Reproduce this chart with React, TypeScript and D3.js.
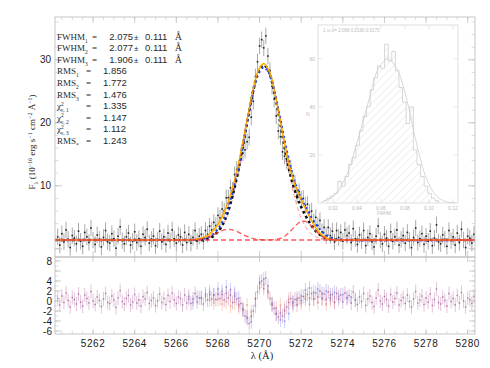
import React from 'react';
import * as d3 from 'd3';

// observed spectrum, sampled every 0.1 A from 5260.3 A
const waveStart = 5260.3;
const waveStep = 0.1;
const continuum = 1.4;
const fluxErr = 1.3;
const resErr = 1.4;

const flux = [
  1.9, 0.6, 2.4, 1.1, 3.0, 1.5, 0.2, 2.1, 1.7, 0.8,
  2.8, 1.2, 0.4, 2.6, 1.9, 1.0, 3.3, 1.4, 0.7, 2.2,
  1.5, 0.3, 1.8, 2.9, 1.1, 0.9, 2.4, 1.6, 0.1, 2.0,
  3.5, 1.3, 0.8, 1.9, 2.5, 0.6, 1.2, 2.7, 1.0, 1.6,
  0.4, 2.3, 1.8, 3.1, 0.9, 1.5, 2.0, 0.5, 1.4, 2.8,
  1.1, 1.9, 0.7, 2.5, 1.3, 3.0, 1.6, 0.9, 2.2,
  1.9, 0.6, 2.6, 1.0, 2.3, 0.9, 1.8, 2.9, 1.2, 2.0,
  2.3, 1.2, 2.9, 2.3, 3.6, 3.0, 4.2, 3.7, 5.3, 4.9,
  6.3, 6.0, 8.1, 8.1, 9.7, 9.3, 11.8, 12.6, 12.8, 14.8,
  15.2, 15.7, 17.0, 17.7, 20.9, 23.4, 27.3, 29.7, 32.2, 33.2,
  31.9, 33.8, 30.6, 28.3, 25.8, 23.8, 21.1, 18.7, 17.8, 15.4,
  14.7, 13.9, 13.3, 12.8, 10.9, 10.4, 8.5, 9.1, 7.9, 8.0,
  6.9, 7.1, 5.8, 6.0, 4.3, 5.0, 3.7, 4.5, 2.7, 3.4,
  2.1, 3.4, 2.1, 2.8, 1.1, 2.9, 1.8, 2.6, 1.2, 3.0,
  2.1,
  2.5, 1.0, 3.2, 1.6, 0.7, 2.2, 1.3, 2.9, 0.5, 1.8,
  2.4, 1.1, 0.3, 2.0, 3.6, 1.4, 0.8, 2.3, 1.7, 0.4,
  2.7, 1.2, 1.9, 3.0, 0.6, 1.5, 2.1, 0.9, 2.6, 1.3,
  0.2, 1.8, 3.3, 1.0, 1.6, 2.4, 0.7, 2.0, 1.2, 2.8,
  0.5, 1.7, 3.8, 1.1, 0.8, 2.2, 1.5, 0.4, 2.9, 1.3,
  1.9, 0.6, 2.5, 1.0, 3.1, 1.4, 0.2, 2.0, 1.7, 0.9,
  2.3,
];

const resPurple = [
  0.5, -0.8, 1.0, -0.3, 1.6, 0.1, -1.2, 0.7, 0.3, -0.6,
  1.4, -0.2, -1.0, 1.2, 0.5, -0.4, 1.9, 0.0, -0.7, 0.8,
  0.1, -1.1, 0.4, 1.5, -0.3, -0.5, 1.0, 0.2, -1.3, 0.6,
  2.1, -0.1, -0.6, 0.5, 1.1, -0.8, -0.2, 1.3, -0.4, 0.2,
  -1.0, 0.9, 0.4, 1.7, -0.5, 0.1, 0.6, -0.9, 0.0, 1.4,
  -0.3, 0.5, -0.7, 1.1, -0.1, 1.6, 0.2, -0.5, 0.8,
  0.5, -0.8, 1.2, -0.4, 0.9, -0.5, 0.4, 1.5, -0.2, 0.6,
  0.7, -0.6, 1.0, 0.2, 1.3, 0.4, 1.2, 0.3, 1.4, 0.5,
  1.3, 0.2, 1.5, 0.6, 1.2, -0.3, 1.0, 0.4, -0.8, -0.5,
  -1.8, -3.0, -3.5, -4.5, -3.0, -2.0, 0.5, 1.8, 3.5, 4.0,
  2.5, 4.6, 2.0, 0.5, -0.8, -1.5, -2.5, -3.2, -2.4, -3.0,
  -2.0, -1.2, -0.3, 0.5, -0.2, 0.3, -0.8, 0.6, 0.1, 0.9,
  0.4, 1.3, 0.6, 1.5, 0.4, 1.6, 0.8, 2.0, 0.5, 1.4,
  0.3, 1.8, 0.6, 1.3, -0.3, 1.5, 0.4, 1.2, -0.2, 1.6,
  0.7,
  1.1, -0.4, 1.8, 0.2, -0.7, 0.8, -0.1, 1.5, -0.9, 0.4,
  1.0, -0.3, -1.1, 0.6, 2.2, 0.0, -0.6, 0.9, 0.3, -1.0,
  1.3, -0.2, 0.5, 1.6, -0.8, 0.1, 0.7, -0.5, 1.2, -0.1,
  -1.2, 0.4, 1.9, -0.4, 0.2, 1.0, -0.7, 0.6, -0.2, 1.4,
  -0.9, 0.3, 2.4, -0.3, -0.6, 0.8, 0.1, -1.0, 1.5, -0.1,
  0.5, -0.8, 1.1, -0.4, 1.7, 0.0, -1.2, 0.6, 0.3, -0.5,
  0.9,
];

// residuals of the other two fits, every 0.2 A
const blueResStart = 5266.6;
const resBlue = [
  0.4, -0.3, 0.8, 0.5, 1.4, 1.8, 1.2, 2.4, 1.9, 2.8,
  2.2, 1.5, 0.6, -1.5, -3.2, -4.2, -1.0, 3.8, 4.4, 3.0,
  -0.5, -2.6, -3.8, -4.0, -2.5, -0.4, 0.2, 1.0, 2.2, 2.6,
  1.8, 2.4, 1.5, 2.0, 1.2, 1.7, 0.9, 1.3, 0.5, 0.8,
  0.2,
];
const orangeResStart = 5267.6;
const resOrange = [
  0.2, -0.4, 0.3, -0.6, -0.2, -1.0, -0.3, -1.2, -1.8, -0.8,
  -2.2, 0.4, 2.6, 3.2, 1.6, -0.6, -1.4, -0.8, -1.6, 0.3,
  -0.9, 0.6, -0.5, 0.9, -0.7, 0.4, -0.3, 0.5, -0.6, 0.2,
  -0.2,
];

// model curves, every 0.25 A from 5266.2 A
const fitStart = 5266.2;
const fitStep = 0.25;
const fitYellow = [1.40, 1.41, 1.43, 1.49, 1.64, 1.98, 2.60, 3.59, 5.02, 6.98, 9.56, 12.88, 16.96, 21.39, 25.43, 28.39, 29.43, 28.31, 25.26, 21.11, 16.69, 12.89, 10.13, 8.15, 6.46, 4.82, 3.36, 2.32, 1.75, 1.49, 1.42, 1.40];
const fitOrange = [1.40, 1.41, 1.44, 1.52, 1.70, 2.05, 2.70, 3.70, 5.15, 7.10, 9.65, 12.95, 17.00, 21.40, 25.40, 28.35, 29.40, 28.30, 25.30, 21.20, 16.80, 13.00, 10.20, 8.15, 6.40, 4.75, 3.30, 2.28, 1.72, 1.48, 1.41, 1.40];
const fitBlue = [1.40, 1.40, 1.41, 1.44, 1.52, 1.72, 2.15, 2.95, 4.25, 6.20, 8.90, 12.40, 16.60, 21.00, 25.00, 27.80, 28.80, 27.90, 25.20, 21.40, 17.30, 13.60, 10.60, 8.40, 6.70, 5.20, 3.90, 2.90, 2.20, 1.75, 1.52, 1.42];
const fitBlack = [1.40, 1.40, 1.40, 1.41, 1.44, 1.55, 1.85, 2.55, 3.70, 5.60, 8.40, 12.00, 16.40, 21.00, 25.20, 28.20, 29.20, 28.10, 25.00, 20.80, 16.20, 12.20, 9.20, 7.00, 5.30, 3.90, 2.80, 2.10, 1.70, 1.50, 1.42, 1.40];
const compCentral = [1.40, 1.40, 1.40, 1.43, 1.48, 1.61, 1.90, 2.47, 3.52, 5.28, 7.95, 11.6, 16.1, 20.9, 25.2, 28.3, 29.4, 28.3, 25.2, 20.9, 16.1, 11.6, 7.95, 5.28, 3.52, 2.47, 1.90, 1.61, 1.48, 1.43, 1.40, 1.40];
const compLeft = [1.40, 1.41, 1.42, 1.46, 1.56, 1.77, 2.10, 2.52, 2.90, 3.10, 3.01, 2.68, 2.26, 1.89, 1.63, 1.49, 1.43, 1.40, 1.40, 1.40, 1.40, 1.40, 1.40, 1.40, 1.40, 1.40, 1.40, 1.40, 1.40, 1.40, 1.40, 1.40];
const compRight = [1.40, 1.40, 1.40, 1.40, 1.40, 1.40, 1.40, 1.40, 1.40, 1.40, 1.40, 1.40, 1.40, 1.40, 1.40, 1.40, 1.40, 1.41, 1.46, 1.61, 1.99, 2.69, 3.58, 4.27, 4.34, 3.75, 2.86, 2.11, 1.67, 1.48, 1.42, 1.40];

// inset histogram of FWHM
const histStart = 0.012;
const histBin = 0.003;
const histCounts = [1, 2, 3, 4, 9, 7, 11, 16, 19, 24, 30, 36, 40, 47, 52, 57, 56, 66, 59, 63, 55, 48, 42, 33, 40, 22, 16, 11, 7, 4, 2, 1];
const histCurveX = [0.010, 0.020, 0.030, 0.040, 0.050, 0.058, 0.066, 0.074, 0.082, 0.090, 0.098, 0.106, 0.114, 0.122];
const histCurveY = [0.3, 2.8, 10, 25, 43, 56, 60, 55, 42, 24, 10, 3, 0.6, 0.1];
const histTicks = [0.02, 0.04, 0.06, 0.08, 0.10, 0.12];

// statistics block
const fwhmVals = ['2.075', '2.077', '1.906'];
const fwhmErrs = ['0.111', '0.111', '0.111'];
const rmsVals = ['1.856', '1.772', '1.476'];
const chiVals = ['1.335', '1.147', '1.112'];
const rmsStar = '1.243';

const xTicks = [5262, 5264, 5266, 5268, 5270, 5272, 5274, 5276, 5278, 5280];
const yMainTicks = [10, 20, 30];
const yResTicks = [8, 4, 2, 0, -2, -4, -6];

const W = 490;
const H = 368;
const L = 55;
const R = 475;
const T = 17;
const MB = 257;
const RB = 334;

const axisGray = '#b8b8b8';
const insetGray = '#cdcdcd';
const serif = '"Liberation Serif", "DejaVu Serif", serif';
const sans = '"Liberation Sans", Arial, sans-serif';

export default function App() {
  const x = d3.scaleLinear().domain([5260.17, 5280.35]).range([L, R]);
  const yMain = d3.scaleLinear().domain([-1.3, 36.8]).range([MB, T]);
  const yRes = d3.scaleLinear().domain([-6.6, 8.8]).range([RB, MB]);

  const xIn = d3.scaleLinear().domain([0.0075, 0.1242]).range([318, 458]);
  const yIn = d3.scaleLinear().domain([0, 74]).range([203, 25]);

  const spec = flux.map((f, i) => ({ w: waveStart + i * waveStep, f }));
  const resP = resPurple.map((r, i) => ({ w: waveStart + i * waveStep, r }));
  const resB = resBlue.map((r, i) => ({ w: blueResStart + i * 0.2, r }));
  const resO = resOrange.map((r, i) => ({ w: orangeResStart + i * 0.2, r }));

  const errPath = spec
    .map((p) => `M${x(p.w)},${yMain(p.f - fluxErr)}V${yMain(p.f + fluxErr)}`)
    .join('');
  const resErrPath = (pts: { w: number; r: number }[]) => pts
    .map((p) => `M${x(p.w)},${yRes(p.r - resErr)}V${yRes(p.r + resErr)}`)
    .join('');

  const modelLine = d3.line<[number, number]>()
    .x((d) => x(d[0]))
    .y((d) => yMain(d[1]))
    .curve(d3.curveCatmullRom);
  const modelPts = (vals: number[]): [number, number][] => [
    [5260.17, continuum],
    ...vals.map((v, k) => [fitStart + k * fitStep, v] as [number, number]),
    [5280.35, continuum],
  ];

  const histArea = d3.area<[number, number]>()
    .x((d) => xIn(d[0]))
    .y0(yIn(0))
    .y1((d) => yIn(d[1]))
    .curve(d3.curveStepAfter);
  const histPts: [number, number][] = [
    ...histCounts.map((c, i) => [histStart + i * histBin, c] as [number, number]),
    [histStart + histCounts.length * histBin, 0],
  ];
  const histLine = d3.line<[number, number]>()
    .x((d) => xIn(d[0]))
    .y((d) => yIn(d[1]))
    .curve(d3.curveStepAfter);
  const curveLine = d3.line<number>()
    .x((_, i) => xIn(histCurveX[i]))
    .y((d) => yIn(d))
    .curve(d3.curveCatmullRom);

  const xMinor = d3.range(5260.5, 5280.4, 0.5);
  const yMainMinor = d3.range(0, 37, 2);
  const yResMinor = d3.range(-6, 9, 1);

  const rowY = (k: number) => 39.5 + 11.6 * k;

  return (
    <svg width={W} height={H} style={{ position: 'absolute', left: 0, top: 0, background: '#fff' }}>
      <defs>
        <clipPath id="mainClip"><rect x={L} y={T} width={R - L} height={MB - T} /></clipPath>
        <clipPath id="resClip"><rect x={L} y={MB} width={R - L} height={RB - MB} /></clipPath>
        <pattern id="hatch" width={5.5} height={5.5} patternUnits="userSpaceOnUse" patternTransform="rotate(45)">
          <line x1={0} y1={0} x2={0} y2={5.5} stroke="#d8d8d8" strokeWidth={0.8} />
        </pattern>
      </defs>

      {/* inset histogram */}
      <g>
        <rect x={318} y={25} width={140} height={178} fill="#fff" stroke="#d6d6d6" strokeWidth={0.8} />
        <path d={histArea(histPts) ?? ''} fill="url(#hatch)" />
        <path d={histLine(histPts) ?? ''} fill="none" stroke={insetGray} strokeWidth={0.8} />
        <path d={curveLine(histCurveY) ?? ''} fill="none" stroke={insetGray} strokeWidth={0.8} />
        {histTicks.map((t) => (
          <g key={t}>
            <line x1={xIn(t)} x2={xIn(t)} y1={203} y2={199} stroke="#d6d6d6" strokeWidth={0.6} />
            <line x1={xIn(t)} x2={xIn(t)} y1={25} y2={29} stroke="#d6d6d6" strokeWidth={0.6} />
            <text x={xIn(t)} y={210} fontSize={5} fill="#b8b8b8" textAnchor="middle" fontFamily={sans}>
              {t.toFixed(2)}
            </text>
          </g>
        ))}
        {[20, 40, 60].map((t) => (
          <g key={t}>
            <line x1={318} x2={322} y1={yIn(t)} y2={yIn(t)} stroke="#d6d6d6" strokeWidth={0.6} />
            <line x1={458} x2={454} y1={yIn(t)} y2={yIn(t)} stroke="#d6d6d6" strokeWidth={0.6} />
            <text x={315} y={yIn(t) + 2} fontSize={5} fill="#b8b8b8" textAnchor="end" fontFamily={sans}>{t}</text>
          </g>
        ))}
        <text x={306} y={116} fontSize={5} fill="#bcbcbc" fontFamily={sans}>N</text>
        <text x={384} y={215} fontSize={4.5} fill="#bcbcbc" textAnchor="middle" fontFamily={sans}>FWHM</text>
        <text x={323} y={32} fontSize={4.5} fill="#bcbcbc" fontFamily={sans}>1 ω σ=  2.066   0.0190   0.0170</text>
      </g>

      {/* main panel */}
      <g clipPath="url(#mainClip)">
        <path d={errPath} stroke="#707070" strokeWidth={0.6} fill="none" />
        {spec.map((p) => (
          <rect key={p.w} x={x(p.w) - 0.8} y={yMain(p.f) - 0.8} width={1.6} height={1.6} fill="#222" />
        ))}
        <path d={modelLine(modelPts(compCentral)) ?? ''} fill="none" stroke="#ff6b6b" strokeWidth={1} strokeDasharray="4 3" opacity={0.7} />
        <path d={modelLine(modelPts(fitBlack)) ?? ''} fill="none" stroke="#111" strokeWidth={2.6} strokeDasharray="2.6 3" />
        <path d={modelLine(modelPts(fitYellow)) ?? ''} fill="none" stroke="#ffd400" strokeWidth={1.6} />
        <path d={modelLine(modelPts(fitBlue)) ?? ''} fill="none" stroke="#1f3cff" strokeWidth={2} strokeDasharray="2 3" strokeDashoffset={1.5} />
        <path d={modelLine(modelPts(fitOrange)) ?? ''} fill="none" stroke="#ff9100" strokeWidth={0.9} />
        <path d={modelLine(modelPts(compLeft)) ?? ''} fill="none" stroke="#ff3b3b" strokeWidth={1.3} strokeDasharray="5 3" opacity={0.85} />
        <path d={modelLine(modelPts(compRight)) ?? ''} fill="none" stroke="#ff3b3b" strokeWidth={1.3} strokeDasharray="5 3" strokeDashoffset={2} opacity={0.85} />
      </g>

      {/* residual panel */}
      <g clipPath="url(#resClip)">
        <path d={resErrPath(resO)} stroke="#f5a582" strokeWidth={0.7} fill="none" opacity={0.7} />
        {resO.map((p) => <rect key={p.w} x={x(p.w) - 0.8} y={yRes(p.r) - 0.8} width={1.6} height={1.6} fill="#f08a60" opacity={0.7} />)}
        <path d={resErrPath(resB)} stroke="#7f8ff0" strokeWidth={0.7} fill="none" opacity={0.6} />
        {resB.map((p) => <rect key={p.w} x={x(p.w) - 0.8} y={yRes(p.r) - 0.8} width={1.6} height={1.6} fill="#6f7fe8" opacity={0.7} />)}
        <path d={resErrPath(resP)} stroke="#c07ab0" strokeWidth={0.6} fill="none" opacity={0.75} />
        {resP.map((p) => <rect key={p.w} x={x(p.w) - 0.7} y={yRes(p.r) - 0.7} width={1.4} height={1.4} fill="#9a5a8e" opacity={0.8} />)}
      </g>

      {/* frames and ticks */}
      <rect x={L} y={T} width={R - L} height={MB - T} fill="none" stroke={axisGray} strokeWidth={0.8} />
      <rect x={L} y={MB} width={R - L} height={RB - MB} fill="none" stroke={axisGray} strokeWidth={0.8} />
      {xTicks.map((t) => (
        <g key={t} stroke={axisGray} strokeWidth={0.7}>
          <line x1={x(t)} x2={x(t)} y1={T} y2={T + 6} />
          <line x1={x(t)} x2={x(t)} y1={MB} y2={MB - 6} />
          <line x1={x(t)} x2={x(t)} y1={MB} y2={MB + 5} />
          <line x1={x(t)} x2={x(t)} y1={RB} y2={RB - 5} />
        </g>
      ))}
      {xMinor.map((t) => (
        <g key={t} stroke={axisGray} strokeWidth={0.5}>
          <line x1={x(t)} x2={x(t)} y1={T} y2={T + 3} />
          <line x1={x(t)} x2={x(t)} y1={RB} y2={RB - 3} />
        </g>
      ))}
      {[0, ...yMainTicks].map((t) => (
        <g key={t} stroke={axisGray} strokeWidth={0.7}>
          <line x1={L} x2={L + 7} y1={yMain(t)} y2={yMain(t)} />
          <line x1={R} x2={R - 7} y1={yMain(t)} y2={yMain(t)} />
        </g>
      ))}
      {yMainMinor.map((t) => (
        <g key={t} stroke={axisGray} strokeWidth={0.5}>
          <line x1={L} x2={L + 3.5} y1={yMain(t)} y2={yMain(t)} />
          <line x1={R} x2={R - 3.5} y1={yMain(t)} y2={yMain(t)} />
        </g>
      ))}
      {[6, ...yResTicks].map((t) => (
        <g key={t} stroke={axisGray} strokeWidth={0.7}>
          <line x1={L} x2={L + 6} y1={yRes(t)} y2={yRes(t)} />
          <line x1={R} x2={R - 6} y1={yRes(t)} y2={yRes(t)} />
        </g>
      ))}
      {yResMinor.map((t) => (
        <g key={t} stroke={axisGray} strokeWidth={0.5}>
          <line x1={L} x2={L + 3} y1={yRes(t)} y2={yRes(t)} />
          <line x1={R} x2={R - 3} y1={yRes(t)} y2={yRes(t)} />
        </g>
      ))}

      {/* tick labels */}
      <g fontFamily={sans} fontSize={10} fill="#1a1a1a">
        {yMainTicks.map((t) => (
          <text key={t} x={51} y={yMain(t) + 3.5} textAnchor="end">{t}</text>
        ))}
        {yResTicks.map((t) => (
          <text key={t} x={52} y={yRes(t) + 3.5} textAnchor="end">{t}</text>
        ))}
        {xTicks.map((t) => (
          <text key={t} x={x(t)} y={347} textAnchor="middle" letterSpacing={0.6}>{t}</text>
        ))}
      </g>

      {/* axis titles */}
      <text x={262} y={359} textAnchor="middle" fontFamily={serif} fontSize={10.5} fill="#1a1a1a">λ (Å)</text>
      <text transform="translate(35,142) rotate(-90)" textAnchor="middle" fontFamily={serif} fontSize={9} fill="#1a1a1a">
        F<tspan baselineShift="sub" fontSize={6}>λ</tspan>
        {' (10'}<tspan baselineShift="super" fontSize={6}>−16</tspan>
        {' erg s'}<tspan baselineShift="super" fontSize={6}>−1</tspan>
        {' cm'}<tspan baselineShift="super" fontSize={6}>−2</tspan>
        {' Å'}<tspan baselineShift="super" fontSize={6}>−1</tspan>)
      </text>

      {/* statistics block */}
      <g fill="#2a2a2a">
        {fwhmVals.map((v, i) => (
          <g key={`f${i}`}>
            <text x={57} y={rowY(i)} fontFamily={serif} fontSize={9}>
              FWHM<tspan baselineShift="sub" fontSize={5.5}>{i + 1}</tspan>
            </text>
            <text x={92} y={rowY(i)} fontFamily={serif} fontSize={9}>=</text>
            <text x={133} y={rowY(i)} fontFamily={sans} fontSize={9.5} textAnchor="end">{v}</text>
            <text x={134} y={rowY(i)} fontFamily={sans} fontSize={8}>±</text>
            <text x={145} y={rowY(i)} fontFamily={sans} fontSize={9.5}>{fwhmErrs[i]}</text>
            <text x={175} y={rowY(i)} fontFamily={serif} fontSize={9.5}>Å</text>
          </g>
        ))}
        {rmsVals.map((v, i) => (
          <g key={`r${i}`}>
            <text x={57} y={rowY(3 + i)} fontFamily={serif} fontSize={9}>
              RMS<tspan baselineShift="sub" fontSize={5.5}>{i + 1}</tspan>
            </text>
            <text x={86} y={rowY(3 + i)} fontFamily={serif} fontSize={9}>=</text>
            <text x={103} y={rowY(3 + i)} fontFamily={sans} fontSize={9.5}>{v}</text>
          </g>
        ))}
        {chiVals.map((v, i) => (
          <g key={`c${i}`}>
            <text x={57} y={rowY(6 + i)} fontFamily={serif} fontSize={9}>
              χ<tspan dy={-3.5} fontSize={5.5}>2</tspan>
              <tspan dx={-3} dy={6.5} fontSize={5.5}>{`ν, ${i + 1}`}</tspan>
            </text>
            <text x={86} y={rowY(6 + i)} fontFamily={serif} fontSize={9}>=</text>
            <text x={103} y={rowY(6 + i)} fontFamily={sans} fontSize={9.5}>{v}</text>
          </g>
        ))}
        <text x={57} y={rowY(9)} fontFamily={serif} fontSize={9}>
          RMS<tspan baselineShift="sub" fontSize={5.5}>*</tspan>
        </text>
        <text x={86} y={rowY(9)} fontFamily={serif} fontSize={9}>=</text>
        <text x={103} y={rowY(9)} fontFamily={sans} fontSize={9.5}>{rmsStar}</text>
      </g>
    </svg>
  );
}
